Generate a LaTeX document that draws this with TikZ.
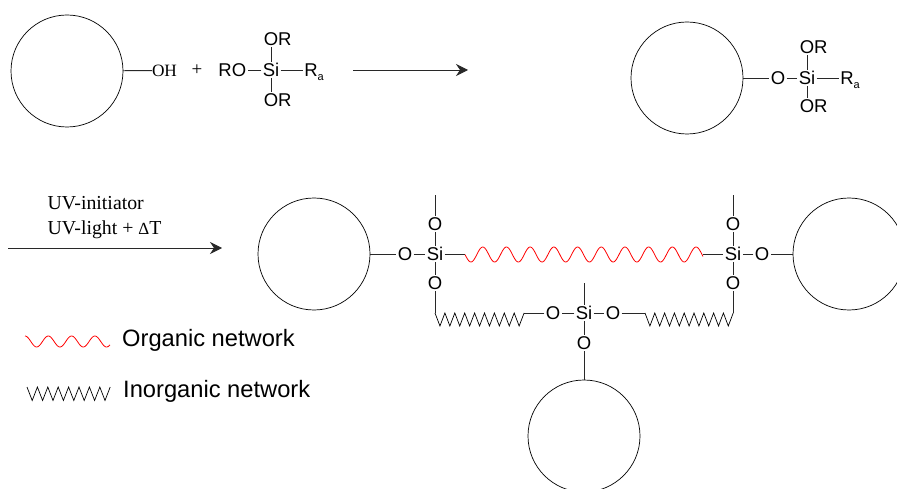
\documentclass[tikz,border=0pt]{standalone}
\usepackage{fontspec}
\setmainfont{Liberation Sans}
\newfontfamily\serifpart{Liberation Serif}
\usetikzlibrary{arrows.meta}
\definecolor{bondgray}{RGB}{40, 40, 40}
\newcommand{\Rsub}{R\rlap{\raisebox{-4pt}{\fontsize{11}{11}\selectfont a}}}

\tikzset{
  bond/.style={line width=0.9pt, color=bondgray},
  particle/.style={circle, draw, line width=0.7pt, minimum size=112pt, inner sep=0pt, outer sep=0pt},
  atom/.style={inner sep=1.5pt, outer sep=0pt, text height=13pt, text depth=0pt, font=\fontsize{18.5}{20}\selectfont},
  serifnote/.style={inner sep=0pt, anchor=base west, font=\serifpart\fontsize{19.8}{22}\selectfont},
  legendnote/.style={inner sep=0pt, anchor=base west, font=\fontsize{23.7}{26}\selectfont},
  reaction/.style={-{Stealth[length=12pt, width=12pt, inset=4pt]}, line width=0.9pt, color=bondgray},
  organic/.style={red, line width=0.8pt},
  inorganic/.style={black, line width=0.7pt, line join=miter}
}

\begin{document}
\begin{tikzpicture}[x=1pt, y=-1pt]
\path[use as bounding box, clip] (0,0) rectangle (897,489);

% first line
\node[particle] (pa) at (67,71) {};
\node[atom, inner sep=0pt, font=\serifpart\fontsize{17.3}{20}\selectfont] (oh) at (164.5,70.5) {OH};
\draw[bond] (pa) -- (oh);
\node[inner sep=0pt, font=\serifpart\fontsize{19}{20}\selectfont] (plus) at (197,70) {+};
\node[atom] (sa) at (271,70) {Si};
\node[atom] (oa1) at (271,39) {O\rlap{R}};
\node[atom] (oa2) at (271,100) {O\rlap{R}};
\node[atom] (oa3) at (239,70) {\llap{R}O};
\node[atom] (ra) at (311,70) {\Rsub};
\draw[bond] (sa) -- (oa1);
\draw[bond] (sa) -- (oa2);
\draw[bond] (sa) -- (oa3);
\draw[bond] (sa) -- (ra);
\coordinate (ar1) at (353,70);
\coordinate (ar2) at (468,70);
\draw[reaction] (ar1) -- (ar2);

\node[particle] (pb) at (687,78) {};
\node[atom] (ob) at (778,78) {O};
\node[atom] (sb) at (807,78) {Si};
\node[atom] (ob1) at (807,47) {O\rlap{R}};
\node[atom] (ob2) at (807,106) {O\rlap{R}};
\node[atom] (rb) at (847,78) {\Rsub};
\draw[bond] (pb) -- (ob);
\draw[bond] (ob) -- (sb);
\draw[bond] (sb) -- (ob1);
\draw[bond] (sb) -- (ob2);
\draw[bond] (sb) -- (rb);

% second line
\node[serifnote] (uv1) at (47.5,210) {UV-initiator};
\node[serifnote] (uv2) at (47.5,235) {UV-light + {\fontsize{17}{20}\selectfont Δ}T};
\coordinate (ar3) at (8,248);
\coordinate (ar4) at (222,248);
\draw[reaction] (ar3) -- (ar4);

\node[particle] (pc) at (314,254) {};
\node[particle] (pd) at (849,254) {};
\node[particle] (pe) at (584,436) {};

% left silicon
\node[atom] (sl) at (435,254) {Si};
\node[atom] (ol) at (405,254) {O};
\node[atom] (olt) at (435,224) {O};
\node[atom] (olb) at (435,283) {O};
\coordinate (endl) at (435,195);
\coordinate (zla) at (435,313);
\draw[bond] (pc) -- (ol);
\draw[bond] (ol) -- (sl);
\draw[bond] (sl) -- (olt);
\draw[bond] (olt) -- (endl);
\draw[bond] (sl) -- (olb);
\draw[bond] (olb) -- (zla);

% right silicon
\node[atom] (sr) at (733,254) {Si};
\node[atom] (or) at (762,254) {O};
\node[atom] (ort) at (733,224) {O};
\node[atom] (orb) at (733,283) {O};
\coordinate (endr) at (733,195);
\coordinate (zrb) at (733,313);
\draw[bond] (pd) -- (or);
\draw[bond] (or) -- (sr);
\draw[bond] (sr) -- (ort);
\draw[bond] (ort) -- (endr);
\draw[bond] (sr) -- (orb);
\draw[bond] (orb) -- (zrb);

% lower silicon
\node[atom] (sm) at (584,313) {Si};
\node[atom] (oml) at (553,313) {O};
\node[atom] (omr) at (613,313) {O};
\node[atom] (omb) at (584,343) {O};
\coordinate (endm) at (584,283);
\coordinate (zlb) at (524,313);
\coordinate (zra) at (645,313);
\draw[bond] (sm) -- (oml);
\draw[bond] (sm) -- (omr);
\draw[bond] (sm) -- (omb);
\draw[bond] (sm) -- (endm);
\draw[bond] (omb) -- (pe);
\draw[bond] (oml) -- (zlb);
\draw[bond] (omr) -- (zra);

% networks
\coordinate (wa) at (465,254);
\coordinate (wb) at (703,254);
\draw[bond] (sl) -- (wa);
\draw[bond] (wb) -- (sr);
\draw[organic] plot[domain=465:703, samples=240, smooth] (\x,{254.5+7.5*sin(15.19*(\x-465))});
\draw[inorganic] (zla) \foreach \i in {1,...,9} { -- ++(4.95,13) -- ++(4.95,-13) };
\draw[inorganic] (zra) \foreach \i in {1,...,9} { -- ++(4.9,13) -- ++(4.9,-13) };

% legend
\draw[organic] plot[domain=25:110, samples=100, smooth] (\x,{341.5-5.5*cos(15.45*(\x-25))});
\node[legendnote] (lo) at (122,346) {Organic network};
\coordinate (zc) at (27,387);
\draw[inorganic] (zc) \foreach \i in {1,...,8} { -- ++(5.2,13.5) -- ++(5.2,-13.5) };
\node[legendnote] (li) at (123,397) {Inorganic network};
\end{tikzpicture}
\end{document}
